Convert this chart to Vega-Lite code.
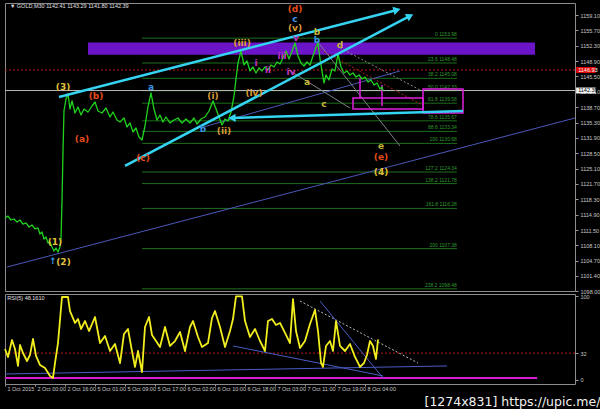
{
  "$schema": "https://vega.github.io/schema/vega-lite/v6.json",
  "background": "#000000",
  "padding": {"left": 3, "top": 2, "right": 0, "bottom": 0},
  "spacing": 3,
  "bounds": "flush",
  "config": {
    "view": {"stroke": "#8c8c8c", "strokeWidth": 1},
    "axis": {"labelColor": "#c8c8c8", "labelFont": "Liberation Sans", "labelFontSize": 5.5, "tickColor": "#9a9a9a", "tickSize": 3, "domain": false, "grid": false, "title": null}
  },
  "title": {"text": "[1274x831] https://upic.me/", "orient": "bottom", "anchor": "end", "color": "#f2f2f2", "fontSize": 12.5, "font": "DejaVu Sans", "fontWeight": "normal", "offset": 4, "frame": "bounds"},
  "datasets": {
    "price": [
      {"h":0,"p":1114.16},{"h":0.8,"p":1114.6},{"h":1.6,"p":1113.72},{"h":2.4,"p":1113.94},{"h":3.2,"p":1113.28},{"h":4.0,"p":1113.72},{"h":4.8,"p":1112.83},{"h":5.6,"p":1113.06},{"h":6.4,"p":1112.17},{"h":7.2,"p":1112.61},{"h":8.0,"p":1111.73},{"h":8.8,"p":1111.95},{"h":9.33,"p":1110.62},{"h":9.87,"p":1111.06},{"h":10.4,"p":1109.51},{"h":10.93,"p":1109.96},{"h":11.47,"p":1108.63},{"h":12.0,"p":1108.85},{"h":12.53,"p":1107.74},{"h":13.07,"p":1106.86},{"h":13.6,"p":1107.52},{"h":14.13,"p":1106.63},{"h":14.67,"p":1107.74},{"h":14.93,"p":1109.51},{"h":15.2,"p":1117.93},{"h":15.47,"p":1129.0},{"h":15.73,"p":1137.85},{"h":16.27,"p":1140.51},{"h":16.8,"p":1141.62},{"h":17.33,"p":1138.29},{"h":17.87,"p":1140.07},{"h":18.67,"p":1137.41},{"h":19.47,"p":1138.74},{"h":20.27,"p":1136.97},{"h":21.07,"p":1138.29},{"h":22.13,"p":1137.63},{"h":23.2,"p":1138.96},{"h":24.0,"p":1139.84},{"h":24.8,"p":1137.85},{"h":25.87,"p":1137.41},{"h":26.93,"p":1138.52},{"h":28.0,"p":1136.52},{"h":28.8,"p":1137.63},{"h":29.87,"p":1135.86},{"h":30.67,"p":1135.42},{"h":31.73,"p":1136.3},{"h":32.53,"p":1134.31},{"h":33.33,"p":1135.2},{"h":34.13,"p":1133.2},{"h":34.93,"p":1134.09},{"h":35.73,"p":1132.1},{"h":36.53,"p":1131.43},{"h":37.33,"p":1134.53},{"h":38.13,"p":1138.74},{"h":38.93,"p":1141.84},{"h":39.73,"p":1138.29},{"h":40.53,"p":1135.86},{"h":41.33,"p":1136.97},{"h":42.13,"p":1135.42},{"h":42.93,"p":1136.52},{"h":44.0,"p":1135.2},{"h":45.07,"p":1135.86},{"h":46.13,"p":1136.3},{"h":47.2,"p":1135.2},{"h":48.27,"p":1136.08},{"h":49.33,"p":1135.2},{"h":50.4,"p":1136.3},{"h":51.2,"p":1134.97},{"h":52.27,"p":1136.08},{"h":53.33,"p":1136.52},{"h":54.4,"p":1137.85},{"h":55.47,"p":1140.07},{"h":56.27,"p":1138.29},{"h":57.07,"p":1136.52},{"h":57.87,"p":1134.75},{"h":58.67,"p":1136.08},{"h":59.47,"p":1135.64},{"h":60.27,"p":1137.63},{"h":61.07,"p":1141.17},{"h":61.6,"p":1144.94},{"h":62.13,"p":1148.48},{"h":62.93,"p":1151.14},{"h":63.73,"p":1148.04},{"h":64.53,"p":1148.92},{"h":65.33,"p":1146.71},{"h":66.13,"p":1147.59},{"h":66.93,"p":1146.27},{"h":67.73,"p":1147.37},{"h":68.53,"p":1146.71},{"h":69.33,"p":1147.59},{"h":70.13,"p":1146.93},{"h":70.93,"p":1148.04},{"h":71.73,"p":1147.59},{"h":72.53,"p":1148.7},{"h":73.33,"p":1148.26},{"h":74.13,"p":1149.59},{"h":74.93,"p":1151.14},{"h":75.73,"p":1149.36},{"h":76.53,"p":1151.14},{"h":77.33,"p":1152.91},{"h":78.13,"p":1150.03},{"h":78.93,"p":1148.48},{"h":79.73,"p":1147.81},{"h":80.53,"p":1148.7},{"h":81.33,"p":1148.04},{"h":82.13,"p":1150.03},{"h":82.93,"p":1152.02},{"h":83.47,"p":1152.91},{"h":84.0,"p":1149.36},{"h":84.53,"p":1146.71},{"h":85.07,"p":1144.05},{"h":85.6,"p":1145.82},{"h":86.4,"p":1144.71},{"h":87.2,"p":1147.15},{"h":88.0,"p":1146.71},{"h":88.8,"p":1150.47},{"h":89.6,"p":1147.59},{"h":90.4,"p":1146.27},{"h":91.2,"p":1146.71},{"h":92.0,"p":1145.82},{"h":92.8,"p":1146.27},{"h":93.6,"p":1145.38},{"h":94.4,"p":1145.82},{"h":95.2,"p":1144.94},{"h":96.0,"p":1145.38},{"h":96.8,"p":1144.27},{"h":97.6,"p":1144.71},{"h":98.4,"p":1143.61},{"h":99.2,"p":1144.05},{"h":100.0,"p":1142.72},{"h":100.53,"p":1143.16},{"h":100.8,"p":1142.39}
    ],
    "rsi": [
      {"h":0,"r":36.9},{"h":0.8,"r":27.4},{"h":1.87,"r":47.6},{"h":2.67,"r":36.9},{"h":3.47,"r":16.7},{"h":4.0,"r":41.7},{"h":4.8,"r":32.1},{"h":5.87,"r":22.6},{"h":6.67,"r":29.8},{"h":7.47,"r":48.8},{"h":8.27,"r":28.6},{"h":9.33,"r":17.9},{"h":10.67,"r":14.3},{"h":12.0,"r":4.8},{"h":12.8,"r":2.4},{"h":13.33,"r":20.2},{"h":14.13,"r":44.0},{"h":15.2,"r":98.8},{"h":16.8,"r":98.8},{"h":17.33,"r":82.1},{"h":18.67,"r":67.9},{"h":19.47,"r":72.6},{"h":20.27,"r":60.7},{"h":21.33,"r":70.2},{"h":22.4,"r":58.3},{"h":24.0,"r":75.0},{"h":25.33,"r":44.0},{"h":26.67,"r":52.4},{"h":28.0,"r":34.5},{"h":29.33,"r":42.9},{"h":30.67,"r":20.2},{"h":31.73,"r":54.8},{"h":32.8,"r":60.7},{"h":33.6,"r":40.5},{"h":34.67,"r":15.5},{"h":35.47,"r":34.5},{"h":36.53,"r":9.5},{"h":37.33,"r":63.1},{"h":38.4,"r":75.0},{"h":39.2,"r":53.6},{"h":40.27,"r":46.4},{"h":41.33,"r":39.3},{"h":42.67,"r":63.1},{"h":44.0,"r":40.5},{"h":45.33,"r":46.4},{"h":46.67,"r":57.1},{"h":48.0,"r":34.5},{"h":49.33,"r":63.1},{"h":50.13,"r":70.2},{"h":51.47,"r":51.2},{"h":52.53,"r":39.3},{"h":54.13,"r":44.0},{"h":55.2,"r":73.8},{"h":56.0,"r":82.1},{"h":57.33,"r":63.1},{"h":58.67,"r":39.3},{"h":60.0,"r":58.3},{"h":60.8,"r":72.6},{"h":61.6,"r":99.5},{"h":63.2,"r":99.5},{"h":64.0,"r":70.2},{"h":65.33,"r":51.2},{"h":66.67,"r":60.7},{"h":68.0,"r":46.4},{"h":69.33,"r":34.5},{"h":70.13,"r":70.2},{"h":71.2,"r":72.6},{"h":72.27,"r":65.5},{"h":73.33,"r":67.9},{"h":74.67,"r":56.0},{"h":76.0,"r":44.0},{"h":76.8,"r":96.4},{"h":77.6,"r":58.3},{"h":78.67,"r":38.1},{"h":80.0,"r":46.4},{"h":81.33,"r":66.7},{"h":82.67,"r":83.3},{"h":83.47,"r":58.3},{"h":84.27,"r":20.2},{"h":84.8,"r":15.5},{"h":85.6,"r":40.5},{"h":86.67,"r":46.4},{"h":87.47,"r":34.5},{"h":88.27,"r":70.2},{"h":89.33,"r":40.5},{"h":90.67,"r":34.5},{"h":92.0,"r":42.9},{"h":93.33,"r":27.4},{"h":94.67,"r":15.5},{"h":95.73,"r":20.2},{"h":96.53,"r":29.8},{"h":97.33,"r":46.4},{"h":98.13,"r":40.5},{"h":98.93,"r":25.0},{"h":99.47,"r":48.2}
    ],
    "fib": [
      {"h":36.53,"h2":120.5,"p":1153.98,"t":"0 1153.98"},
      {"h":36.53,"h2":120.5,"p":1148.48,"t":"23.6 1148.48"},
      {"h":36.53,"h2":120.5,"p":1145.08,"t":"38.2 1145.08"},
      {"h":36.53,"h2":120.5,"p":1142.33,"t":"50.0 1142.33"},
      {"h":36.53,"h2":120.5,"p":1139.58,"t":"61.8 1139.58"},
      {"h":36.53,"h2":120.5,"p":1135.67,"t":"78.6 1135.67"},
      {"h":36.53,"h2":120.5,"p":1133.34,"t":"88.6 1133.34"},
      {"h":36.53,"h2":120.5,"p":1130.68,"t":"100 1130.68"},
      {"h":36.53,"h2":120.5,"p":1124.34,"t":"127.2 1124.34"},
      {"h":36.53,"h2":120.5,"p":1121.78,"t":"138.2 1121.78"},
      {"h":36.53,"h2":120.5,"p":1116.28,"t":"161.8 1116.28"},
      {"h":36.53,"h2":120.5,"p":1107.38,"t":"200 1107.38"},
      {"h":36.53,"h2":120.5,"p":1098.48,"t":"238.2 1098.48"}
    ],
    "zone": [{"h":22.13,"h2":141.33,"p":1150.33,"p2":1152.99}],
    "boxes": [
      {"h":111.47,"h2":122.13,"p":1137.41,"p2":1142.72},
      {"h":92.8,"h2":111.47,"p":1138.3,"p2":1140.73}
    ],
    "ticksm": [
      {"h":94.67,"h2":94.67,"p":1140.73,"p2":1145.2},
      {"h":100.53,"h2":100.53,"p":1138.96,"p2":1143.6}
    ],
    "levels": [
      {"kind":"bid","h":0,"h2":152,"p":1142.39,"p2":1142.39},
      {"kind":"ask","h":0,"h2":152,"p":1146.93,"p2":1146.93}
    ],
    "thin": [
      {"kind":"slate","h":0.53,"h2":152,"p":1103.31,"p2":1136.3},
      {"kind":"slate","h":52,"h2":105.3,"p":1134.09,"p2":1146.71},
      {"kind":"grey","h":83.2,"h2":105.33,"p":1153.35,"p2":1130.1},
      {"kind":"grey","h":75.7,"h2":92.0,"p":1146.9,"p2":1138.5}
    ],
    "dots": [
      {"kind":"greydot","h":89.33,"h2":111.2,"p":1151.8,"p2":1142.28},
      {"kind":"reddot","h":83.2,"h2":111.2,"p":1151.8,"p2":1139.2}
    ],
    "cyan": [
      {"h":14.4,"h2":104.53,"p":1140.95,"p2":1160.21},
      {"h":32.0,"h2":108.0,"p":1125.68,"p2":1158.89},
      {"h":122.13,"h2":60.53,"p":1137.85,"p2":1136.3}
    ],
    "tip1": [{"h":104.53,"p":1160.21}],
    "tip2": [{"h":108.0,"p":1158.89}],
    "tip3": [{"h":60.53,"p":1136.3}],
    "waves": [
      {"kind":"primary","t":"(3)","h":15.47,"p":1143.16},
      {"kind":"primary","t":"(1)","h":13.33,"p":1108.85},
      {"kind":"primary","t":"(2)","h":15.6,"p":1104.42},
      {"kind":"primary","t":"(4)","h":100.27,"p":1124.35},
      {"kind":"intermediate","t":"(a)","h":20.53,"p":1131.65},
      {"kind":"intermediate","t":"(b)","h":24.27,"p":1141.17},
      {"kind":"intermediate","t":"(c)","h":36.8,"p":1127.45},
      {"kind":"intermediate","t":"(d)","h":77.33,"p":1160.43},
      {"kind":"intermediate","t":"(e)","h":100.27,"p":1127.67},
      {"kind":"minute","t":"a","h":38.93,"p":1143.16},
      {"kind":"minute","t":"b","h":52.8,"p":1133.87},
      {"kind":"minute","t":"c","h":77.33,"p":1158.22},
      {"kind":"minute","t":"b","h":83.2,"p":1153.57},
      {"kind":"minute","t":"↑","h":12.8,"p":1104.6},
      {"kind":"minor","t":"(i)","h":55.47,"p":1141.17},
      {"kind":"minor","t":"(ii)","h":58.4,"p":1133.42},
      {"kind":"minor","t":"(iii)","h":63.2,"p":1152.91},
      {"kind":"minor","t":"(iv)","h":66.4,"p":1141.84},
      {"kind":"minor","t":"(v)","h":77.33,"p":1156.23},
      {"kind":"minuette","t":"i","h":66.93,"p":1148.48},
      {"kind":"minuette","t":"ii","h":70.13,"p":1146.93},
      {"kind":"minuette","t":"iii","h":73.87,"p":1150.03},
      {"kind":"minuette","t":"iv","h":76.27,"p":1146.49},
      {"kind":"minuette","t":"v","h":77.6,"p":1154.01},
      {"kind":"sub","t":"b","h":83.2,"p":1155.34},
      {"kind":"sub","t":"d","h":89.33,"p":1152.46},
      {"kind":"sub","t":"a","h":80.53,"p":1144.27},
      {"kind":"sub","t":"c","h":85.07,"p":1139.4},
      {"kind":"sub","t":"e","h":100.27,"p":1130.1}
    ],
    "header": [{"t":"▼ GOLD,M30  1142.41 1143.29 1141.80 1142.39","h":1.3,"p":1161.0}],
    "askbox": [{"h":152.3,"h2":157.5,"p":1146.27,"p2":1147.59,"t":"1146.93"}],
    "bidbox": [{"h":152.3,"h2":157.5,"p":1141.73,"p2":1143.05,"t":"1142.39"}],
    "rsilines": [
      {"h":60.8,"h2":100.8,"r":40.5,"r2":4.8},
      {"h":84.0,"h2":100.8,"r":94.0,"r2":2.4},
      {"h":0,"h2":117.87,"r":7.1,"r2":16.7}
    ],
    "rsidots": [
      {"kind":"orange","h":78.67,"h2":110.13,"r":94.0,"r2":20.2},
      {"kind":"level","h":0,"h2":152,"r":32,"r2":32}
    ],
    "rsimag": [{"h":0,"h2":141.9,"r":2.4,"r2":2.4}],
    "rsihead": [{"t":"RSI(5) 48.1610","h":0.6,"r":98.0}]
  },
  "vconcat": [
    {
      "width": 570,
      "height": 288,
      "encoding": {
        "x": {"field": "h", "type": "quantitative", "scale": {"domain": [0, 152], "nice": false, "zero": false}, "axis": null},
        "y": {"field": "p", "type": "quantitative", "scale": {"domain": [1098, 1161.76], "nice": false, "zero": false},
              "axis": {"orient": "right", "values": [1098, 1101.4, 1104.7, 1108.1, 1111.5, 1114.9, 1118.3, 1121.7, 1125.1, 1128.5, 1131.9, 1135.3, 1138.7, 1142.1, 1145.5, 1148.9, 1152.3, 1155.7, 1159.1], "format": ".2f", "labelPadding": 2}}
      },
      "layer": [
        {"data": {"name": "zone"}, "mark": {"type": "rect", "color": "#6c14c8"},
         "encoding": {"x2": {"field": "h2"}, "y2": {"field": "p2"}}},
        {"data": {"name": "fib"}, "mark": {"type": "rule", "color": "#1d6e1d", "strokeWidth": 1},
         "encoding": {"x2": {"field": "h2"}}},
        {"data": {"name": "fib"}, "mark": {"type": "text", "color": "#2f9a2f", "fontSize": 5, "align": "right", "baseline": "bottom", "dy": -1, "font": "Liberation Sans"},
         "encoding": {"x": {"field": "h2", "type": "quantitative"}, "text": {"field": "t"}}},
        {"data": {"name": "levels"}, "mark": {"type": "rule", "strokeWidth": 1},
         "encoding": {"x2": {"field": "h2"}, "y2": {"field": "p2"},
                      "color": {"field": "kind", "type": "nominal", "legend": null, "scale": {"domain": ["bid", "ask", "slate", "grey", "greydot", "reddot", "primary", "intermediate", "minor", "minute", "minuette", "sub"], "range": ["#b8b8b8", "#c01818", "#4c58b8", "#7a8088", "#8a8a8a", "#b02020", "#e2c23a", "#e44c1c", "#dc9a34", "#3c96e4", "#c232c8", "#c4b838"]}},
                      "strokeDash": {"field": "kind", "type": "nominal", "legend": null, "scale": {"domain": ["bid", "ask"], "range": [[1, 0], [2, 2]]}}}},
        {"data": {"name": "thin"}, "mark": {"type": "rule", "strokeWidth": 1},
         "encoding": {"x2": {"field": "h2"}, "y2": {"field": "p2"},
                      "color": {"field": "kind", "type": "nominal", "legend": null, "scale": {"domain": ["bid", "ask", "slate", "grey", "greydot", "reddot", "primary", "intermediate", "minor", "minute", "minuette", "sub"], "range": ["#b8b8b8", "#c01818", "#4c58b8", "#7a8088", "#8a8a8a", "#b02020", "#e2c23a", "#e44c1c", "#dc9a34", "#3c96e4", "#c232c8", "#c4b838"]}}}},
        {"data": {"name": "dots"}, "mark": {"type": "rule", "strokeWidth": 1, "strokeDash": [2, 2]},
         "encoding": {"x2": {"field": "h2"}, "y2": {"field": "p2"},
                      "color": {"field": "kind", "type": "nominal", "legend": null, "scale": {"domain": ["bid", "ask", "slate", "grey", "greydot", "reddot", "primary", "intermediate", "minor", "minute", "minuette", "sub"], "range": ["#b8b8b8", "#c01818", "#4c58b8", "#7a8088", "#8a8a8a", "#b02020", "#e2c23a", "#e44c1c", "#dc9a34", "#3c96e4", "#c232c8", "#c4b838"]}}}},
        {"data": {"name": "boxes"}, "mark": {"type": "rect", "fill": "transparent", "stroke": "#e020e0", "strokeWidth": 1.5},
         "encoding": {"x2": {"field": "h2"}, "y2": {"field": "p2"}}},
        {"data": {"name": "ticksm"}, "mark": {"type": "rule", "color": "#e020e0", "strokeWidth": 1.5},
         "encoding": {"x2": {"field": "h2"}, "y2": {"field": "p2"}}},
        {"data": {"name": "price"}, "mark": {"type": "line", "color": "#1ed21e", "strokeWidth": 1.3, "strokeJoin": "round"}, "encoding": {}},
        {"data": {"name": "cyan"}, "mark": {"type": "rule", "color": "#34d4f2", "strokeWidth": 2.5},
         "encoding": {"x2": {"field": "h2"}, "y2": {"field": "p2"}}},
        {"data": {"name": "tip1"}, "mark": {"type": "point", "shape": "triangle-right", "filled": true, "color": "#34d4f2", "size": 70, "angle": 345.6, "opacity": 1}, "encoding": {}},
        {"data": {"name": "tip2"}, "mark": {"type": "point", "shape": "triangle-right", "filled": true, "color": "#34d4f2", "size": 70, "angle": 332.2, "opacity": 1}, "encoding": {}},
        {"data": {"name": "tip3"}, "mark": {"type": "point", "shape": "triangle-right", "filled": true, "color": "#34d4f2", "size": 70, "angle": 178.3, "opacity": 1}, "encoding": {}},
        {"data": {"name": "waves"}, "mark": {"type": "text", "fontSize": 9, "fontWeight": "bold", "font": "DejaVu Sans", "baseline": "middle", "align": "center"},
         "encoding": {"text": {"field": "t"},
                      "color": {"field": "kind", "type": "nominal", "legend": null, "scale": {"domain": ["bid", "ask", "slate", "grey", "greydot", "reddot", "primary", "intermediate", "minor", "minute", "minuette", "sub"], "range": ["#b8b8b8", "#c01818", "#4c58b8", "#7a8088", "#8a8a8a", "#b02020", "#e2c23a", "#e44c1c", "#dc9a34", "#3c96e4", "#c232c8", "#c4b838"]}}}},
        {"data": {"name": "header"}, "mark": {"type": "text", "color": "#e0e0e0", "fontSize": 5.5, "align": "left", "baseline": "middle", "font": "Liberation Sans"},
         "encoding": {"text": {"field": "t"}}},
        {"data": {"name": "askbox"}, "mark": {"type": "rect", "color": "#e00000"},
         "encoding": {"x2": {"field": "h2"}, "y2": {"field": "p2"}}},
        {"data": {"name": "bidbox"}, "mark": {"type": "rect", "color": "#f4f4f4"},
         "encoding": {"x2": {"field": "h2"}, "y2": {"field": "p2"}}},
        {"data": {"name": "askbox"}, "transform": [{"calculate": "(datum.p + datum.p2) / 2", "as": "pm"}],
         "mark": {"type": "text", "color": "#ffffff", "fontSize": 5.5, "align": "left", "baseline": "middle", "dx": 2, "font": "Liberation Sans"},
         "encoding": {"y": {"field": "pm", "type": "quantitative"}, "text": {"field": "t"}}},
        {"data": {"name": "bidbox"}, "transform": [{"calculate": "(datum.p + datum.p2) / 2", "as": "pm"}],
         "mark": {"type": "text", "color": "#000000", "fontSize": 5.5, "align": "left", "baseline": "middle", "dx": 2, "font": "Liberation Sans"},
         "encoding": {"y": {"field": "pm", "type": "quantitative"}, "text": {"field": "t"}}}
      ]
    },
    {
      "width": 570,
      "height": 90,
      "encoding": {
        "x": {"field": "h", "type": "quantitative", "scale": {"domain": [0, 152], "nice": false, "zero": false},
              "axis": {"orient": "bottom", "values": [0, 8, 16, 24, 32, 40, 48, 56, 64, 72, 80, 88, 96],
                       "labelExpr": "['1 Oct 2015','2 Oct 00:00','2 Oct 16:00','5 Oct 01:00','5 Oct 09:00','5 Oct 17:00','6 Oct 02:00','6 Oct 10:00','6 Oct 18:00','7 Oct 03:00','7 Oct 11:00','7 Oct 19:00','8 Oct 04:00'][round(datum.value / 8)]",
                       "labelAlign": "left", "labelOffset": 2, "labelPadding": 0, "tickSize": 2, "labelFlush": false, "labelOverlap": false}},
        "y": {"field": "r", "type": "quantitative", "scale": {"domain": [-4.8, 102.4], "nice": false, "zero": false},
              "axis": {"orient": "right", "values": [0, 32, 100], "format": "d", "labelPadding": 2}}
      },
      "layer": [
        {"data": {"name": "rsidots"}, "mark": {"type": "rule", "strokeWidth": 1, "strokeDash": [2, 2]},
         "encoding": {"x2": {"field": "h2"}, "y2": {"field": "r2"},
                      "color": {"field": "kind", "type": "nominal", "legend": null, "scale": {"domain": ["orange", "level"], "range": ["#c8501c", "#6a1a5a"]}}}},
        {"data": {"name": "rsimag"}, "mark": {"type": "rule", "color": "#d41ed4", "strokeWidth": 2},
         "encoding": {"x2": {"field": "h2"}, "y2": {"field": "r2"}}},
        {"data": {"name": "rsilines"}, "mark": {"type": "rule", "color": "#4a5cc4", "strokeWidth": 1},
         "encoding": {"x2": {"field": "h2"}, "y2": {"field": "r2"}}},
        {"data": {"name": "rsi"}, "mark": {"type": "line", "color": "#f2ee1e", "strokeWidth": 1.8, "strokeJoin": "round"}, "encoding": {}},
        {"data": {"name": "rsihead"}, "mark": {"type": "text", "color": "#e0e0e0", "fontSize": 5.5, "align": "left", "baseline": "middle", "font": "Liberation Sans"},
         "encoding": {"text": {"field": "t"}}}
      ]
    }
  ]
}
